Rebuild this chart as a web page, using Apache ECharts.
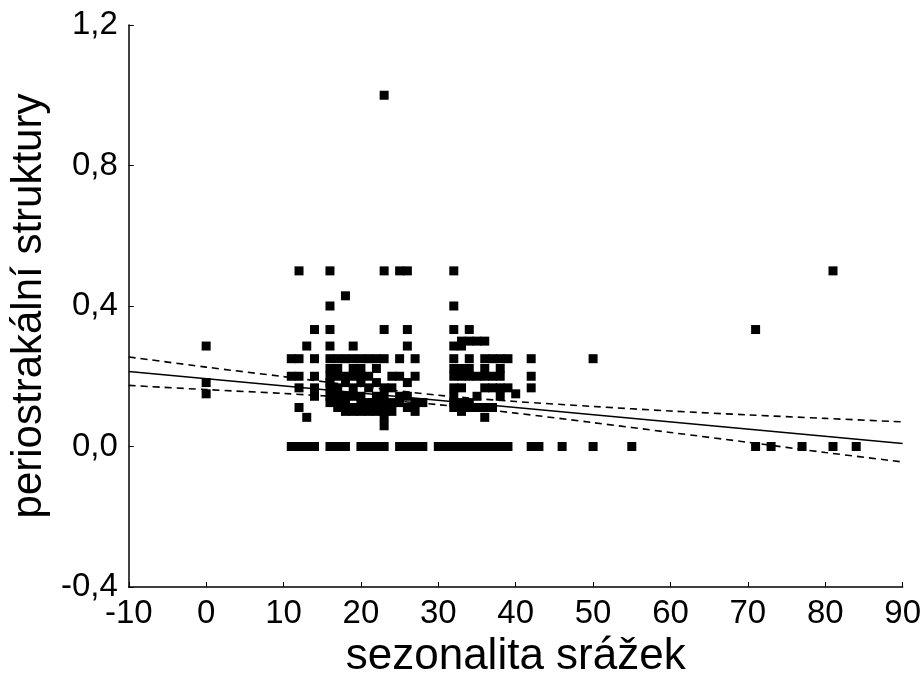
<!DOCTYPE html>
<html>
<head>
<meta charset="utf-8">
<script src="https://cdn.jsdelivr.net/npm/echarts@6/dist/echarts.min.js"></script>
<style>
html,body{margin:0;padding:0;background:#fff;}
#chart{width:924px;height:684px;}
</style>
</head>
<body>
<div id="chart"></div>
<script>
// Scatter points: x = sezonalita srážek, y = periostrakální struktury
const pointsX = [
  11,12,13,14,16,17,18,20,21,22,23,25,26,27,28,30,31,32,33,34,35,36,37,38,39,42,43,46,50,55,71,73,77,81,84,
  0,0,0,
  11,11,
  12,12,12,12,12,
  13,13,
  14,14,14,14,14,
  16,16,16,16,16,16,16,16,16,16,16,
  17,17,17,17,17,17,17,
  18,18,18,18,18,18,18,18,
  19,19,19,19,19,19,19,19,
  20,20,20,20,20,20,20,
  21,21,21,21,21,21,
  22,22,22,22,22,22,
  23,23,23,23,23,23,23,23,23,23,
  24,24,24,24,
  25,25,25,25,25,
  26,26,26,26,26,26,
  27,27,27,27,
  28,
  32,32,32,32,32,32,32,32,32,32,32,
  33,33,33,33,33,33,33,33,
  34,34,34,34,34,34,34,
  35,35,35,35,
  36,36,36,36,36,36,36,
  37,37,37,37,
  38,38,38,38,38,
  39,39,40,
  42,42,42,
  50,71,81
];
const pointsY = [
  0,0,0,0,0,0,0,0,0,0,0,0,0,0,0,0,0,0,0,0,0,0,0,0,0,0,0,0,0,0,0,0,0,0,0,
  0.286,0.182,0.15,
  0.25,0.2,
  0.5,0.25,0.2,0.167,0.111,
  0.286,0.083,
  0.333,0.25,0.2,0.167,0.143,
  0.5,0.4,0.333,0.286,0.25,0.222,0.2,0.182,0.167,0.143,0.125,
  0.25,0.222,0.2,0.167,0.143,0.125,0.111,
  0.429,0.25,0.2,0.182,0.143,0.125,0.111,0.1,
  0.286,0.25,0.222,0.2,0.167,0.143,0.111,0.1,
  0.25,0.222,0.2,0.182,0.143,0.125,0.1,
  0.25,0.2,0.167,0.125,0.111,0.1,
  0.25,0.222,0.182,0.143,0.125,0.1,
  1.0,0.5,0.333,0.25,0.167,0.143,0.125,0.1,0.083,0.059,
  0.2,0.167,0.125,0.1,
  0.5,0.25,0.2,0.143,0.125,
  0.5,0.333,0.286,0.182,0.143,0.111,
  0.25,0.2,0.125,0.1,
  0.125,
  0.5,0.4,0.333,0.286,0.25,0.222,0.2,0.167,0.143,0.125,0.111,
  0.3,0.286,0.222,0.2,0.167,0.125,0.111,0.1,
  0.333,0.3,0.25,0.222,0.2,0.125,0.111,
  0.3,0.2,0.143,0.111,
  0.3,0.25,0.222,0.2,0.167,0.111,0.083,
  0.25,0.2,0.167,0.111,
  0.25,0.222,0.2,0.167,0.143,
  0.25,0.167,0.15,
  0.25,0.2,0.167,
  0.25,0.333,0.5
];
// Regression line and 95% confidence band
const lineX = [-10, 90];
const lineY = [0.2135, 0.0085];
const bandX = [-10, 0, 10, 20, 30, 40, 50, 60, 70, 80, 90];
const bandUpper = [0.255, 0.226, 0.199, 0.171, 0.146, 0.128, 0.114, 0.101, 0.090, 0.080, 0.070];
const bandLower = [0.174, 0.162, 0.151, 0.137, 0.119, 0.095, 0.068, 0.040, 0.012, -0.017, -0.044];
// Axis ticks
const xTicks = [-10, 0, 10, 20, 30, 40, 50, 60, 70, 80, 90];
const yTicks = [-0.4, 0, 0.4, 0.8, 1.2];

const scatterData = pointsX.map((x, i) => [x, pointsY[i]]);
const lineData = lineX.map((x, i) => [x, lineY[i]]);
const upperData = bandX.map((x, i) => [x, bandUpper[i]]);
const lowerData = bandX.map((x, i) => [x, bandLower[i]]);

const FONT = '"Liberation Sans", Arial, sans-serif';
const chart = echarts.init(document.getElementById('chart'), null, {renderer: 'canvas'});
chart.setOption({
  animation: false,
  backgroundColor: '#fff',
  grid: {left: 128, right: 19, top: 25, bottom: 97, containLabel: false},
  xAxis: {
    type: 'value',
    min: xTicks[0], max: xTicks[xTicks.length - 1], interval: 10,
    name: 'sezonalita srážek', nameLocation: 'middle', nameGap: 46,
    nameTextStyle: {fontFamily: FONT, fontSize: 44, color: '#000'},
    axisLine: {show: true, onZero: false, lineStyle: {color: '#000', width: 1.5}},
    axisTick: {show: true, inside: true, length: 5, lineStyle: {color: '#000', width: 1}},
    axisLabel: {fontFamily: FONT, fontSize: 33, color: '#000', margin: 10},
    splitLine: {show: false}
  },
  yAxis: {
    type: 'value',
    min: yTicks[0], max: yTicks[yTicks.length - 1], interval: 0.4,
    name: 'periostrakální struktury', nameLocation: 'middle', nameGap: 58,
    nameTextStyle: {fontFamily: FONT, fontSize: 42, color: '#000'},
    axisLine: {show: true, onZero: false, lineStyle: {color: '#000', width: 1.5}},
    axisTick: {show: true, inside: true, length: 5, lineStyle: {color: '#000', width: 1}},
    axisLabel: {fontFamily: FONT, fontSize: 33, color: '#000', margin: 11,
      formatter: v => v.toFixed(1).replace('.', ',')},
    splitLine: {show: false}
  },
  series: [
    {type: 'scatter', data: scatterData, symbol: 'rect', symbolSize: 9,
     itemStyle: {color: '#000', opacity: 1}, z: 3},
    {type: 'line', data: lineData, showSymbol: false, symbol: 'none',
     lineStyle: {color: '#000', width: 1.6}, z: 4},
    {type: 'line', data: upperData, smooth: 0.3, showSymbol: false, symbol: 'none',
     lineStyle: {color: '#000', width: 1.6, type: [7, 5]}, z: 4},
    {type: 'line', data: lowerData, smooth: 0.3, showSymbol: false, symbol: 'none',
     lineStyle: {color: '#000', width: 1.6, type: [7, 5]}, z: 4}
  ]
});
</script>
</body>
</html>
